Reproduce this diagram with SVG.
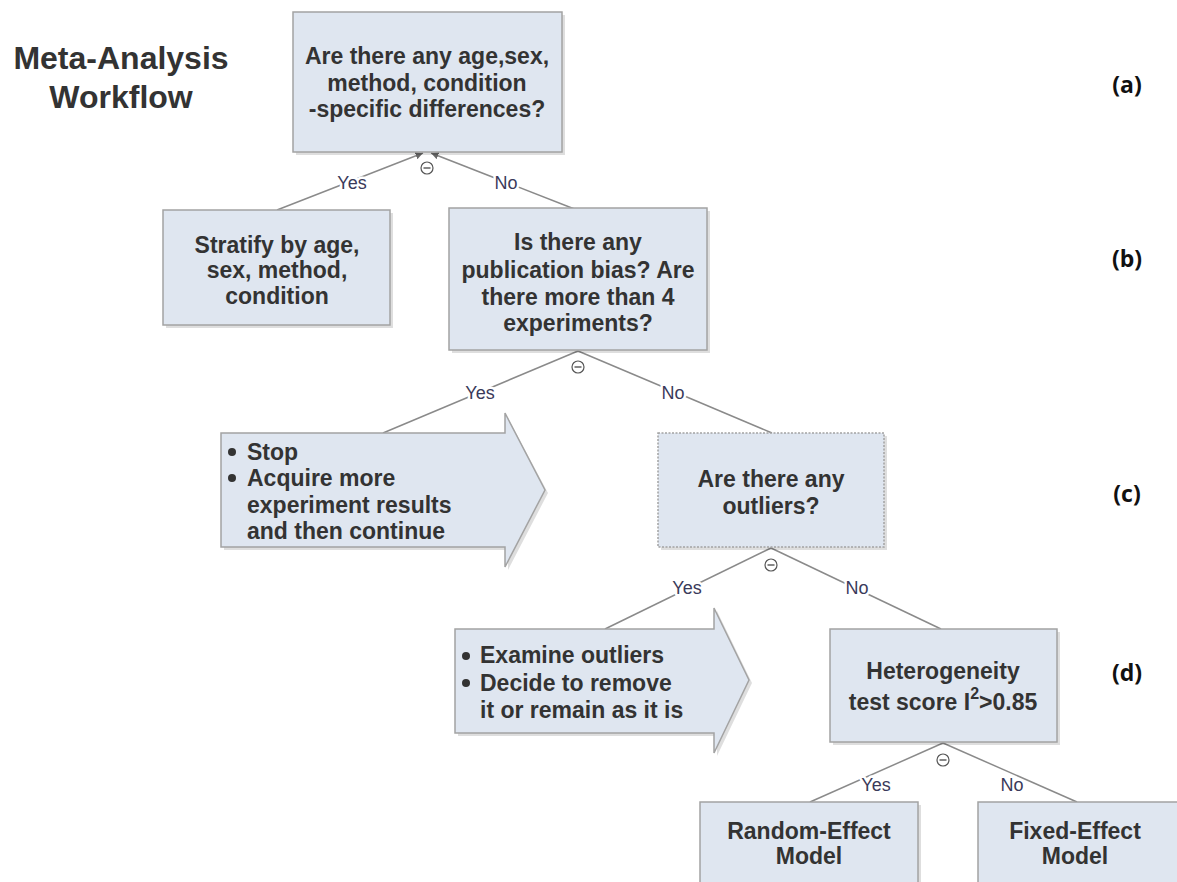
<svg xmlns="http://www.w3.org/2000/svg" width="1177" height="882" viewBox="0 0 1177 882">
<style>
.box{fill:#dfe6f0;stroke:#a3a3a3;stroke-width:1.5}
.dotted{stroke-dasharray:2 1.5}
.shadow{fill:#000;opacity:0.13}
.t{font-family:"Liberation Sans",Arial,sans-serif;font-weight:bold;font-size:23px;fill:#333}
.c{text-anchor:middle}
.title{font-family:"Liberation Sans",Arial,sans-serif;font-weight:bold;font-size:32px;fill:#333;text-anchor:middle}
.tag{font-family:"Open Sans","DejaVu Sans",sans-serif;font-weight:bold;font-size:23px;fill:#111;text-anchor:middle}
.conn line{stroke:#8a8a8a;stroke-width:1.5}
.lbl{font-family:"Liberation Sans Narrow","Liberation Sans",Arial,sans-serif;font-stretch:condensed;font-size:18px;fill:#3a3a5a;text-anchor:middle;stroke:#fff;stroke-width:5px;paint-order:stroke;stroke-linejoin:round}
.col circle{fill:#fff;stroke:#555;stroke-width:1.2}
.col line{stroke:#555;stroke-width:1.4}
.bul{fill:#333}
</style>
<defs>
<marker id="ah" viewBox="0 0 6 6" refX="6" refY="3" markerWidth="5" markerHeight="5" orient="auto">
<path d="M0,0 L6,3 L0,6 z" fill="#666"/>
</marker>
</defs>
<rect width="1177" height="882" fill="#fff"/>

<g id="title">
<text class="title" x="121" y="69">Meta-Analysis</text>
<text class="title" x="121" y="108">Workflow</text>
</g>
<g id="tags">
<text class="tag" x="1127" y="93">(a)</text>
<text class="tag" x="1127" y="267">(b)</text>
<text class="tag" x="1127" y="502">(c)</text>
<text class="tag" x="1127" y="681">(d)</text>
</g>

<g id="connectors" class="conn">
<line x1="277" y1="210" x2="423" y2="153" marker-end="url(#ah)"/>
<line x1="577" y1="210" x2="431" y2="153" marker-end="url(#ah)"/>
<line x1="578" y1="351" x2="383" y2="433"/>
<line x1="578" y1="351" x2="772" y2="433"/>
<line x1="771" y1="548" x2="605" y2="629"/>
<line x1="771" y1="548" x2="941" y2="629"/>
<line x1="943" y1="743" x2="810" y2="802"/>
<line x1="943" y1="743" x2="1077" y2="802"/>
<text class="lbl" x="352" y="189">Yes</text>
<text class="lbl" x="506" y="189">No</text>
<text class="lbl" x="480" y="399">Yes</text>
<text class="lbl" x="673" y="399">No</text>
<text class="lbl" x="687" y="594">Yes</text>
<text class="lbl" x="857" y="594">No</text>
<text class="lbl" x="876" y="791">Yes</text>
<text class="lbl" x="1012" y="791">No</text>
</g>

<g id="n1">
<rect class="shadow" x="296" y="15" width="269" height="140"/>
<rect class="box" x="293" y="12" width="269" height="140"/>
<text class="t c" x="427" y="64">Are there any age,sex,</text>
<text class="t c" x="427" y="91">method, condition</text>
<text class="t c" x="427" y="117">-specific differences?</text>
<g class="col"><circle cx="427" cy="168" r="6"/><line x1="423.5" y1="168" x2="430.5" y2="168"/></g>
</g>

<g id="n2">
<rect class="shadow" x="166" y="213" width="227" height="115"/>
<rect class="box" x="163" y="210" width="227" height="115"/>
<text class="t c" x="277" y="253">Stratify by age,</text>
<text class="t c" x="277" y="278">sex, method,</text>
<text class="t c" x="277" y="304">condition</text>
</g>

<g id="n3">
<rect class="shadow" x="452" y="211" width="258" height="142"/>
<rect class="box" x="449" y="208" width="258" height="142"/>
<text class="t c" x="578" y="250">Is there any</text>
<text class="t c" x="578" y="278">publication bias? Are</text>
<text class="t c" x="578" y="305">there more than 4</text>
<text class="t c" x="578" y="331">experiments?</text>
<g class="col"><circle cx="578" cy="367" r="6"/><line x1="574.5" y1="367" x2="581.5" y2="367"/></g>
</g>

<g id="n4">
<polygon class="shadow" points="224,436 508,436 508,418 548,493 508,570 508,550 224,550"/>
<polygon class="box" points="221,433 505,433 505,413 545,490 505,567 505,547 221,547"/>
<circle class="bul" cx="232" cy="452" r="4"/>
<text class="t" x="247" y="460">Stop</text>
<circle class="bul" cx="232" cy="478" r="4"/>
<text class="t" x="247" y="486">Acquire more</text>
<text class="t" x="247" y="513">experiment results</text>
<text class="t" x="247" y="539">and then continue</text>
</g>

<g id="n5">
<rect class="shadow" x="661" y="436" width="226" height="114"/>
<rect class="box dotted" x="658" y="433" width="226" height="114"/>
<text class="t c" x="771" y="487">Are there any</text>
<text class="t c" x="771" y="514">outliers?</text>
<g class="col"><circle cx="771" cy="565" r="6"/><line x1="767.5" y1="565" x2="774.5" y2="565"/></g>
</g>

<g id="n6">
<polygon class="shadow" points="458,632 717,632 717,611 752,683 717,756 717,736 458,736"/>
<polygon class="box" points="455,629 714,629 714,608 749,680 714,753 714,733 455,733"/>
<circle class="bul" cx="466" cy="656" r="4"/>
<text class="t" x="480" y="663">Examine outliers</text>
<circle class="bul" cx="466" cy="683" r="4"/>
<text class="t" x="480" y="691">Decide to remove</text>
<text class="t" x="480" y="718">it or remain as it is</text>
</g>

<g id="n7">
<rect class="shadow" x="833" y="632" width="227" height="113"/>
<rect class="box" x="830" y="629" width="227" height="113"/>
<text class="t c" x="943" y="679">Heterogeneity</text>
<text class="t c" x="943" y="710">test score I<tspan font-size="16px" dy="-11">2</tspan><tspan dy="11">&gt;0.85</tspan></text>
<g class="col"><circle cx="943" cy="760" r="6"/><line x1="939.5" y1="760" x2="946.5" y2="760"/></g>
</g>

<g id="n8">
<rect class="shadow" x="703" y="805" width="218" height="100"/>
<rect class="box" x="700" y="802" width="218" height="100"/>
<text class="t c" x="809" y="839">Random-Effect</text>
<text class="t c" x="809" y="864">Model</text>
</g>

<g id="n9">
<rect class="shadow" x="981" y="805" width="218" height="100"/>
<rect class="box" x="978" y="802" width="218" height="100"/>
<text class="t c" x="1075" y="839">Fixed-Effect</text>
<text class="t c" x="1075" y="864">Model</text>
</g>
</svg>
